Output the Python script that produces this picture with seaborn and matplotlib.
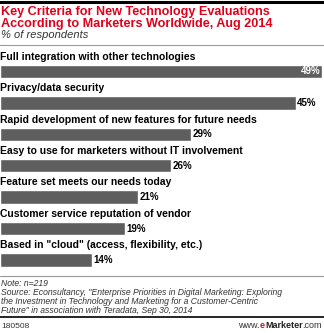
import matplotlib
matplotlib.use("Agg")
import matplotlib.pyplot as plt
import seaborn as sns
import pandas as pd
from matplotlib.lines import Line2D

categories = [
    "Full integration with other technologies",
    "Privacy/data security",
    "Rapid development of new features for future needs",
    "Easy to use for marketers without IT involvement",
    "Feature set meets our needs today",
    "Customer service reputation of vendor",
    'Based in "cloud" (access, flexibility, etc.)',
]
values = [49, 45, 29, 26, 21, 19, 14]
value_labels = ["49%", "45%", "29%", "26%", "21%", "19%", "14%"]

title_lines = ["Key Criteria for New Technology Evaluations",
               "According to Marketers Worldwide, Aug 2014"]
subtitle = "% of respondents"
note = "Note: n=219"
source_lines = ['Source: Econsultancy, "Enterprise Priorities in Digital Marketing: Exploring',
                'the Investment in Technology and Marketing for a Customer-Centric',
                'Future" in association with Teradata, Sep 30, 2014']
code = "180508"

sns.set_theme(style="white")
plt.rcParams['font.family'] = ['Liberation Sans', 'DejaVu Sans']

W, H = 324, 333
fig = plt.figure(figsize=(W / 100, H / 100), dpi=100)

def fy(py):
    return 1 - py / H

def fx(px):
    return px / W

# top black bar
fig.add_artist(Line2D([0, 1], [fy(1.5), fy(1.5)], color="black", lw=2.2, transform=fig.transFigure))

for k, line in enumerate(title_lines):
    fig.text(fx(1), fy(14.5 + 12.5 * k), line, color="#e0001b", fontsize=9.1,
             fontweight="bold", va="baseline", ha="left")
fig.text(fx(1), fy(38), subtitle, color="#333333", fontsize=8, style="italic",
         va="baseline", ha="left")
fig.add_artist(Line2D([0, 1], [fy(44.5), fy(44.5)], color="#999999", lw=0.8, transform=fig.transFigure))

# bar axes
top_px, bot_px = 49.5, 275.7
ax = fig.add_axes([0, fy(bot_px), fx(322), (bot_px - top_px) / H])
df = pd.DataFrame({"cat": categories, "val": values})
sns.barplot(data=df, y="cat", x="val", orient="h", color="#5e5e5e", width=0.43,
            saturation=1, ax=ax, order=categories)
ax.set_xlim(0, 49)
ax.set_ylim(6.5, -0.7)
ax.axis("off")

for i, (c, v, lab) in enumerate(zip(categories, values, value_labels)):
    ax.text(0.05, i - 0.47, c, fontsize=7.5, fontweight="bold", color="black",
            ha="left", va="center")
    if i == 0:
        ax.text(v - 0.3, i, lab, fontsize=7, fontweight="bold", color="white",
                ha="right", va="center")
    else:
        ax.text(v + 0.25, i, lab, fontsize=7, fontweight="bold", color="black",
                ha="left", va="center")

# footer
fig.add_artist(Line2D([0, 1], [fy(275.5), fy(275.5)], color="#999999", lw=0.8, transform=fig.transFigure))
fs_foot = 6.2
fig.text(fx(1), fy(286.5), note, fontsize=fs_foot, style="italic", color="#333333",
         va="baseline", ha="left")
for k, line in enumerate(source_lines):
    fig.text(fx(1), fy(295.3 + 8.8 * k), line, fontsize=fs_foot, style="italic", color="#333333",
             va="baseline", ha="left")
fig.add_artist(Line2D([0, 1], [fy(317), fy(317)], color="black", lw=1.2, transform=fig.transFigure))
fig.text(fx(1), fy(328), code, fontsize=6, color="#333333", va="baseline", ha="left")

# www.eMarketer.com built right-to-left
fig.canvas.draw()
renderer = fig.canvas.get_renderer()
pieces = [("www.", "normal", "#333333"), ("e", "bold", "#e0001b"),
          ("Marketer", "bold", "#222222"), (".com", "normal", "#333333")]
xr = 322
for txt, wt, col in reversed(pieces):
    t = fig.text(fx(xr), fy(328), txt, fontsize=6.5, fontweight=wt, color=col,
                 va="baseline", ha="right")
    bb = t.get_window_extent(renderer=renderer)
    xr -= bb.width

fig.savefig("out.png", dpi=100)
